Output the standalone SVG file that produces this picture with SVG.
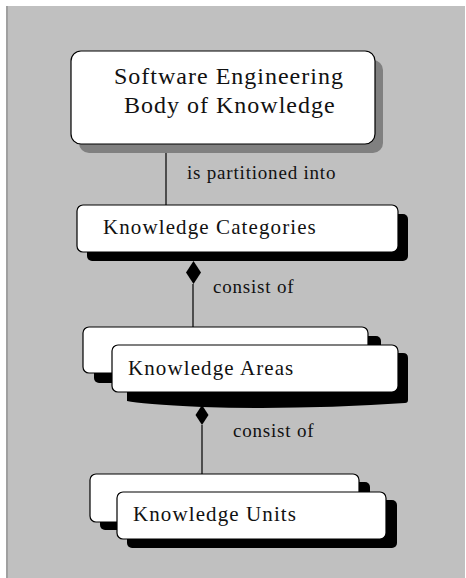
<svg xmlns="http://www.w3.org/2000/svg" width="466" height="578" viewBox="0 0 466 578">
<style>
.box{fill:#fff;stroke:#000;stroke-width:1.2}
.sh{fill:#000}
.t{font-family:"Liberation Serif","Times New Roman",serif;fill:#111}
.lbl{font-size:19px;letter-spacing:0.8px}
.nm{font-size:21px;letter-spacing:1.1px}
.ln{stroke:#000;stroke-width:1.2;fill:none}
</style>
<rect x="0" y="0" width="466" height="578" fill="#fff"/>
<rect x="6" y="6" width="459" height="572" fill="#c0c0c0"/>
<rect x="6" y="6" width="2" height="572" fill="#a0a0a0"/>
<g id="connectors">
<line class="ln" x1="166" y1="144" x2="166" y2="205"/>
<line class="ln" x1="193" y1="284" x2="193" y2="327"/>
<path d="M193.5 261 L201 272.5 L193.5 284 L186 272.5 Z" fill="#000"/>
<line class="ln" x1="202" y1="425" x2="202" y2="474"/>
<path d="M202 405 L208.5 415 L202 425 L195.5 415 Z" fill="#000"/>
<text class="t lbl" x="187" y="179">is partitioned into</text>
<text class="t lbl" x="213" y="293" letter-spacing="0.6">consist of</text>
<text class="t lbl" x="233" y="437" letter-spacing="0.6">consist of</text>
</g>
<g id="sebok">
<rect x="79" y="60" width="304" height="93" rx="10" fill="#808080"/>
<rect class="box" x="71" y="51" width="304" height="93" rx="10"/>
<text class="t" font-size="24" letter-spacing="1" x="114" y="84">Software Engineering</text>
<text class="t" font-size="24" letter-spacing="1" x="124" y="113">Body of Knowledge</text>
</g>
<g id="categories">
<rect class="sh" x="87" y="214" width="321" height="47" rx="5"/>
<rect class="box" x="77" y="205" width="321" height="47" rx="6"/>
<text class="t nm" x="103" y="234">Knowledge Categories</text>
</g>
<g id="areas">
<rect class="sh" x="94" y="336" width="287" height="47" rx="5"/>
<rect class="box" x="83" y="327" width="285" height="46" rx="6"/>
<path class="sh" d="M127 353 H403 Q408 353 408 358 V400 Q408 403 405 403 Q300 410 202 407 Q140 404 127 401 Z"/>
<rect class="box" x="112" y="345" width="286" height="47" rx="6"/>
<text class="t nm" x="128" y="375">Knowledge Areas</text>
</g>
<g id="units">
<rect class="sh" x="100" y="482" width="270" height="48" rx="5"/>
<rect class="box" x="90" y="474" width="269" height="48" rx="6"/>
<rect class="sh" x="127" y="500" width="270" height="48" rx="5"/>
<rect class="box" x="117" y="492" width="269" height="47" rx="6"/>
<text class="t nm" x="133" y="521">Knowledge Units</text>
</g>
</svg>
